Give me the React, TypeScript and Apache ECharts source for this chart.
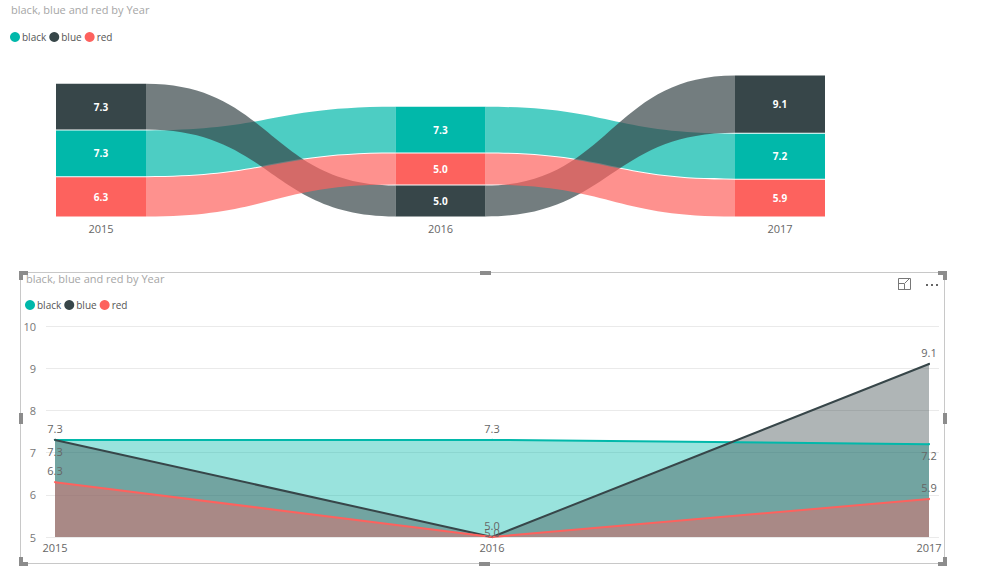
import React, { useEffect, useRef } from "react";
import * as echarts from "echarts";

const years = ["2015", "2016", "2017"];
const seriesNames = ["black", "blue", "red"];
const blackValues = [7.3, 7.3, 7.2];
const blueValues = [7.3, 5.0, 9.1];
const redValues = [6.3, 5.0, 5.9];
const titleText = "black, blue and red by Year";
const yTicks = [5, 6, 7, 8, 9, 10];

const allValues = [blackValues, blueValues, redValues];
const colors = ["#01B8AA", "#374649", "#FD625E"];
const ribbonColors = ["rgba(1,184,170,0.7)", "rgba(55,70,73,0.7)", "rgba(253,98,94,0.7)"];
const FONT = "'Segoe UI', 'Open Sans', sans-serif";

function stackRange(s: number, c: number): [number, number] {
  const order = [0, 1, 2].sort((a, b) => allValues[a][c] - allValues[b][c] || a - b);
  let base = 0;
  for (const k of order) {
    if (k === s) return [base, base + allValues[k][c]];
    base += allValues[k][c];
  }
  return [0, 0];
}

function makeRibbonRender(s: number) {
  return (params: any, api: any) => {
    const c = api.value(0) as number;
    const v = api.value(1) as number;
    const [lo, hi] = stackRange(s, c);
    const pLo = api.coord([c, lo]);
    const pHi = api.coord([c, hi]);
    const halfW = 45;
    const children: any[] = [];
    children.push({
      type: "rect",
      shape: { x: pLo[0] - halfW, y: pHi[1] + 0.5, width: halfW * 2, height: pLo[1] - pHi[1] - 1 },
      style: { fill: colors[s] },
    });
    children.push({
      type: "text",
      style: {
        text: v.toFixed(1),
        x: pLo[0],
        y: (pLo[1] + pHi[1]) / 2,
        fill: "#ffffff",
        fontSize: 10,
        fontWeight: "bold",
        fontFamily: FONT,
        align: "center",
        verticalAlign: "middle",
      },
      z2: 10,
    });
    if (c < years.length - 1) {
      const [lo2, hi2] = stackRange(s, c + 1);
      const qLo = api.coord([c + 1, lo2]);
      const qHi = api.coord([c + 1, hi2]);
      const x0 = pLo[0] + halfW;
      const x1 = qLo[0] - halfW;
      const xm = (x0 + x1) / 2;
      const y0t = pHi[1] + 0.5, y0b = pLo[1] - 0.5, y1t = qHi[1] + 0.5, y1b = qLo[1] - 0.5;
      const d = `M${x0},${y0t} C${xm},${y0t} ${xm},${y1t} ${x1},${y1t} L${x1},${y1b} C${xm},${y1b} ${xm},${y0b} ${x0},${y0b} Z`;
      children.push({ type: "path", shape: { pathData: d }, style: { fill: ribbonColors[s] } });
    }
    return { type: "group", children };
  };
}

// label placement for line chart (styling)
const labelPlacement: Record<string, any[]> = {
  black: [{ position: "top" }, { position: "top" }, { position: "bottom" }],
  blue: [{ position: "bottom" }, { position: "top" }, { position: "top" }],
  red: [{ position: "top" }, { position: "top", offset: [0, 7] }, { position: "top" }],
};

export default function App() {
  const ref = useRef<HTMLDivElement>(null);
  useEffect(() => {
    if (!ref.current) return;
    const chart = echarts.init(ref.current, undefined, { renderer: "svg" });

    // bottom grid pixel layout
    const gLeft = 46, gRight = 939, p0 = 55, p2 = 929;
    const pxPerUnit = (p2 - p0) / (years.length - 1);
    const xMin = -(p0 - gLeft) / pxPerUnit;
    const xMax = years.length - 1 + (gRight - p2) / pxPerUnit;

    const topSeries = seriesNames.map((name, s) => ({
      name,
      type: "custom",
      xAxisIndex: 0,
      yAxisIndex: 0,
      itemStyle: { color: colors[s] },
      renderItem: makeRibbonRender(s),
      data: allValues[s].map((v, i) => [i, v]),
    }));

    const areaSeries = seriesNames.map((name, s) => ({
      name,
      type: "line",
      xAxisIndex: 1,
      yAxisIndex: 1,
      z: 1,
      symbol: "none",
      silent: true,
      itemStyle: { color: colors[s] },
      lineStyle: { width: 0 },
      areaStyle: { color: colors[s], opacity: 0.4, origin: "start" },
      data: allValues[s].map((v, i) => [i, v]),
    }));

    const lineSeries = seriesNames.map((name, s) => ({
      name,
      type: "line",
      xAxisIndex: 1,
      yAxisIndex: 1,
      z: 3,
      symbol: "circle",
      symbolSize: 2,
      itemStyle: { color: colors[s] },
      lineStyle: { width: 2, color: colors[s] },
      label: {
        show: true,
        color: "#666666",
        fontSize: 11,
        fontFamily: FONT,
        formatter: (p: any) => Number(p.value[1]).toFixed(1),
      },
      data: allValues[s].map((v, i) => ({ value: [i, v], label: labelPlacement[name][i] })),
    }));

    const handle = "#8c8c8c";
    const hr = (x: number, y: number, w: number, h: number, fill = handle) => ({
      type: "rect",
      shape: { x, y, width: w, height: h },
      style: { fill },
      z: 100,
    });

    const legendBase = {
      data: seriesNames,
      padding: 0,
      icon: "circle",
      itemWidth: 10,
      itemHeight: 10,
      itemGap: 3,
      textStyle: { color: "#555555", fontSize: 10, fontFamily: FONT, padding: [0, 0, 0, -3] },
    };

    const option: any = {
      animation: false,
      color: colors,
      textStyle: { fontFamily: FONT },
      title: [
        {
          text: titleText,
          left: 11,
          top: 4,
          padding: 0,
          textStyle: { color: "#a6a6a6", fontSize: 11, fontWeight: "normal", fontFamily: FONT },
        },
        {
          text: titleText,
          left: 26,
          top: 273,
          padding: 0,
          textStyle: { color: "#a6a6a6", fontSize: 11, fontWeight: "normal", fontFamily: FONT },
        },
      ],
      legend: [
        { ...legendBase, left: 10, top: 32 },
        { ...legendBase, left: 25, top: 300 },
      ],
      grid: [
        { left: 101, right: 982 - 780, top: 57, height: 160 },
        { left: gLeft, right: 982 - gRight, top: 326, height: 211 },
      ],
      xAxis: [
        {
          gridIndex: 0,
          type: "category",
          data: years,
          boundaryGap: false,
          axisLine: { show: false },
          axisTick: { show: false },
          axisLabel: { color: "#666666", fontSize: 11, margin: 6, fontFamily: FONT },
        },
        {
          gridIndex: 1,
          type: "value",
          min: xMin,
          max: xMax,
          axisLine: { show: false },
          axisTick: { show: false },
          splitLine: { show: false },
          axisLabel: {
            color: "#666666",
            fontSize: 11,
            margin: 5,
            fontFamily: FONT,
            customValues: years.map((_, i) => i),
            formatter: (v: number) => years[Math.round(v)],
          },
        },
      ],
      yAxis: [
        { gridIndex: 0, type: "value", min: 0, max: 25, show: false },
        {
          gridIndex: 1,
          type: "value",
          min: yTicks[0],
          max: yTicks[yTicks.length - 1],
          interval: 1,
          axisLine: { show: false },
          axisTick: { show: false },
          splitLine: { lineStyle: { color: "#eaeaea", width: 1 } },
          axisLabel: { color: "#777777", fontSize: 11, margin: 10, fontFamily: FONT },
        },
      ],
      graphic: [
        {
          type: "rect",
          shape: { x: 20.5, y: 272.5, width: 924, height: 291 },
          style: { fill: "none", stroke: "#c8c8c8", lineWidth: 1 },
          z: 90,
        },
        hr(19, 271, 9, 4), hr(19, 271, 4, 9),
        hr(19, 562, 9, 4), hr(19, 557, 4, 9),
        hr(938, 271, 9, 4), hr(943, 271, 4, 9),
        hr(938, 562, 9, 4), hr(943, 557, 4, 9),
        hr(19, 413, 4, 11), hr(943, 413, 4, 11),
        hr(480, 271, 11, 4), hr(479, 562, 11, 4),
        {
          type: "rect",
          shape: { x: 898.5, y: 278.5, width: 12, height: 11 },
          style: { fill: "none", stroke: "#777", lineWidth: 1 },
          z: 100,
        },
        {
          type: "rect",
          shape: { x: 898.5, y: 283.5, width: 6, height: 6 },
          style: { fill: "none", stroke: "#777", lineWidth: 1 },
          z: 100,
        },
        {
          type: "line",
          shape: { x1: 905, y1: 283, x2: 910, y2: 278 },
          style: { stroke: "#777", lineWidth: 1 },
          z: 100,
        },
        hr(926, 284, 2, 2, "#666"), hr(931, 284, 2, 2, "#666"), hr(936, 284, 2, 2, "#666"),
      ],
      series: [...topSeries, ...areaSeries, ...lineSeries],
    };
    chart.setOption(option);
    return () => chart.dispose();
  }, []);
  return (
    <div
      ref={ref}
      style={{ position: "fixed", left: 0, top: 0, width: 982, height: 584, background: "#fff" }}
    />
  );
}
